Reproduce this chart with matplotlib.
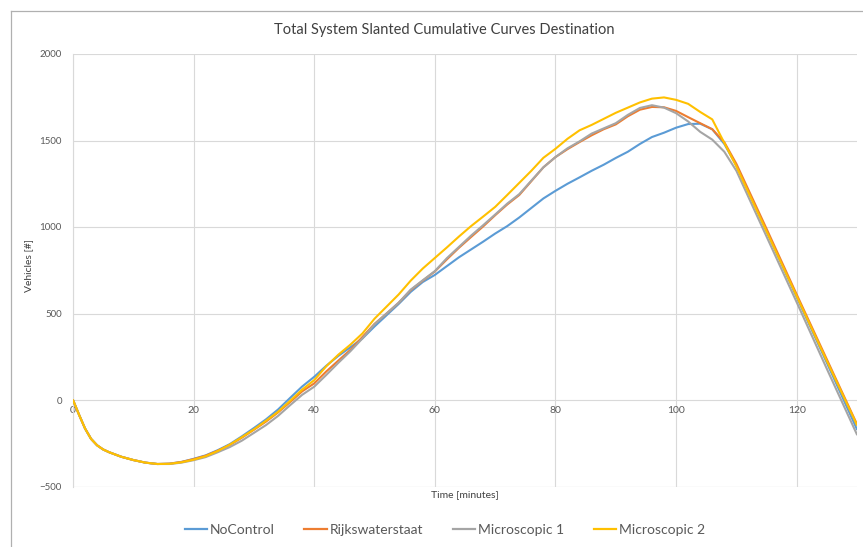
import matplotlib
matplotlib.use("Agg")
import matplotlib.pyplot as plt
from matplotlib.lines import Line2D

plt.rcParams['font.family'] = ['Lato', 'DejaVu Sans']

# Time in minutes
time_min = [0, 1, 2, 3, 4, 5, 6, 8, 10, 12, 14, 16, 18, 20, 22, 24, 26, 28, 30, 32, 34, 36, 38,
            40, 42, 44, 46, 48, 50, 52, 54, 56, 58, 60, 62, 64, 66, 68, 70, 72, 74, 76, 78,
            80, 82, 84, 86, 88, 90, 92, 94, 96, 98, 100, 102, 104, 106, 108, 110,
            115, 120, 125, 130]

no_control = [0, -85, -165, -225, -262, -286, -302, -328, -347, -362, -370, -368, -358, -340, -320, -290, -255, -210, -162, -112, -55, 12, 78,
              134, 198, 255, 305, 356, 425, 490, 555, 625, 682, 723, 774, 825, 870, 915, 962, 1005, 1055, 1110, 1165,
              1209, 1250, 1287, 1325, 1360, 1399, 1435, 1480, 1520, 1545, 1574, 1595, 1597, 1565, 1480, 1355,
              975, 595, 215, -170]

rijkswaterstaat = [0, -85, -165, -225, -262, -286, -302, -328, -347, -362, -370, -368, -358, -342, -322, -293, -260, -218, -172, -125, -72, -12, 50,
                   96, 165, 228, 290, 365, 440, 500, 562, 635, 690, 743, 813, 880, 942, 1003, 1068, 1130, 1185, 1265, 1345,
                   1404, 1450, 1491, 1530, 1565, 1593, 1640, 1678, 1694, 1692, 1671, 1635, 1600, 1565, 1490, 1365,
                   990, 610, 235, -140]

microscopic_1 = [0, -85, -165, -225, -262, -286, -302, -328, -347, -362, -370, -370, -362, -348, -330, -302, -272, -235, -190, -145, -92, -30, 30,
                 77, 145, 215, 282, 356, 438, 500, 562, 638, 692, 745, 820, 885, 950, 1010, 1072, 1135, 1190, 1268, 1345,
                 1404, 1455, 1495, 1540, 1570, 1600, 1648, 1688, 1704, 1690, 1658, 1610, 1550, 1505, 1435, 1325,
                 945, 565, 180, -200]

microscopic_2 = [0, -85, -165, -225, -262, -286, -302, -328, -347, -362, -370, -369, -360, -345, -325, -295, -258, -215, -170, -120, -68, -5, 60,
                 115, 195, 262, 320, 385, 470, 540, 610, 690, 760, 821, 882, 945, 1005, 1060, 1116, 1185, 1255, 1325, 1400,
                 1452, 1510, 1559, 1590, 1625, 1660, 1690, 1720, 1742, 1749, 1735, 1712, 1665, 1622, 1486, 1350,
                 975, 600, 225, -145]

series_names = ["NoControl", "Rijkswaterstaat", "Microscopic 1", "Microscopic 2"]
series_values = [no_control, rijkswaterstaat, microscopic_1, microscopic_2]
series_colors = ["#5B9BD5", "#ED7D31", "#A5A5A5", "#FFC000"]

x_ticks = [0, 20, 40, 60, 80, 100, 120]
y_ticks = [-500, 0, 500, 1000, 1500, 2000]

W, H = 863, 547
fig = plt.figure(figsize=(W / 100, H / 100), dpi=100)
fig.patch.set_facecolor("white")

# chart-area border (left and top edges)
border = "#b0b0b0"
fig.add_artist(Line2D([10.5 / W, 10.5 / W], [0, 1 - 10.5 / H], transform=fig.transFigure,
                      color=border, lw=0.9))
fig.add_artist(Line2D([10.5 / W, 1], [1 - 10.5 / H, 1 - 10.5 / H], transform=fig.transFigure,
                      color=border, lw=0.9))

left, right, top, bottom = 73, 857, 54, 486.5
ax = fig.add_axes([left / W, 1 - bottom / H, (right - left) / W, (bottom - top) / H])

grid_c = "#d9d9d9"
for name, vals, col in zip(series_names, series_values, series_colors):
    ax.plot(time_min, vals, color=col, lw=1.5, label=name, solid_joinstyle="round",
            solid_capstyle="round", zorder=3)

ax.set_xlim(0, 130)
ax.set_ylim(-500, 2000)
ax.set_xticks(x_ticks)
ax.set_yticks(y_ticks)
ax.grid(True, color=grid_c, lw=0.8, zorder=0)
ax.set_axisbelow(True)

for s in ["top", "right", "bottom"]:
    ax.spines[s].set_visible(False)
ax.spines["left"].set_color(grid_c)
ax.spines["left"].set_linewidth(0.8)
ax.axhline(-500, color=grid_c, lw=0.8, zorder=0)

# x tick labels sit on the zero line
ax.spines["bottom"].set_position(("data", 0))
ax.tick_params(axis="x", length=0, pad=4, labelsize=7.5, labelcolor="#595959")
ax.tick_params(axis="y", length=0, pad=8, labelsize=7, labelcolor="#595959")

ax.set_ylabel("Vehicles [#]", fontsize=7.5, color="#404040")
ax.yaxis.set_label_coords((33 - left) / (right - left), (bottom - 265) / (bottom - top))

fig.text(465 / W, 1 - 495 / H, "Time [minutes]", ha="center", va="center", fontsize=7.5, color="#404040")
fig.text(444 / W, 1 - 30 / H, "Total System Slanted Cumulative Curves Destination",
         ha="center", va="center", fontsize=10.5, color="#404040")

handles = [Line2D([], [], color=c, lw=1.6) for c in series_colors]
fig.legend(handles, series_names, loc="center", bbox_to_anchor=(445 / W, 1 - 530 / H),
           ncol=4, frameon=False, fontsize=10, handlelength=1.6, handletextpad=0.25,
           columnspacing=2.1, labelcolor="#595959")

fig.savefig("out.png", dpi=100, facecolor="white")
